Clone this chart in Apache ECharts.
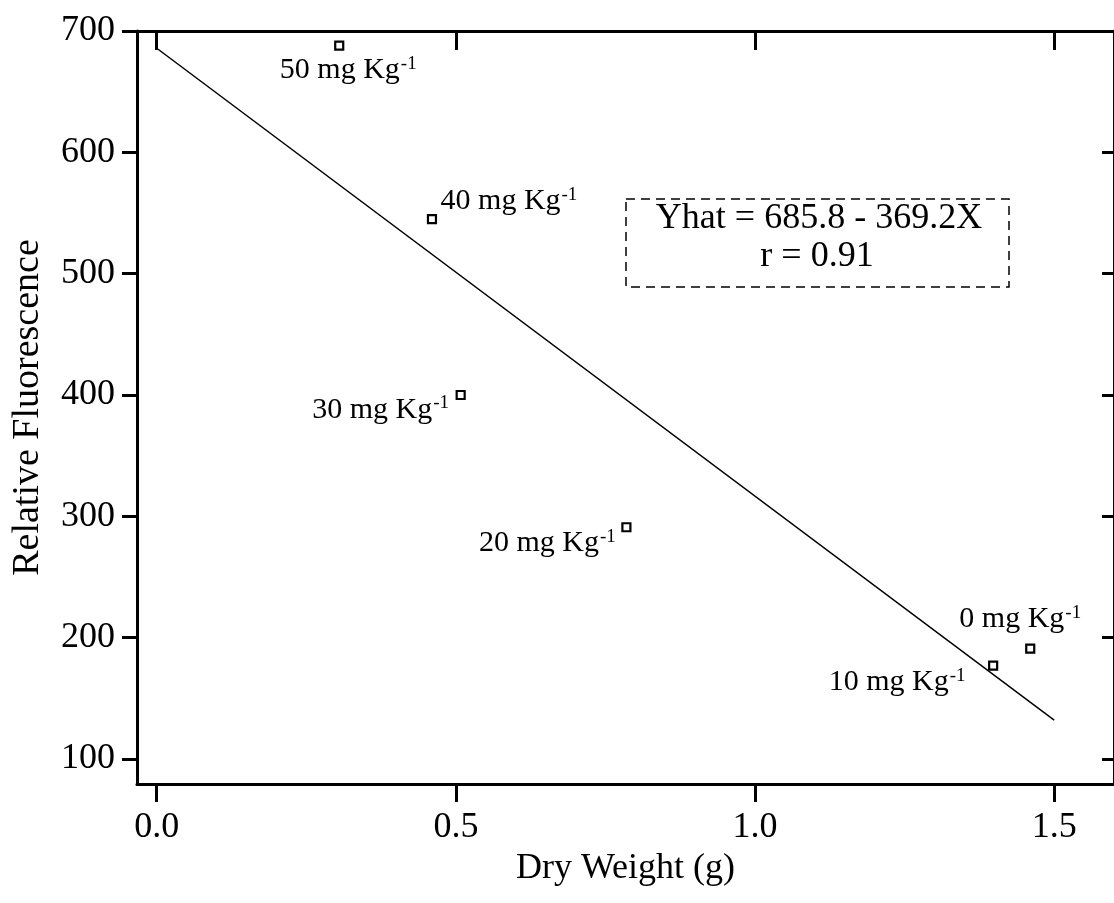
<!DOCTYPE html>
<html>
<head>
<meta charset="utf-8">
<script src="https://cdn.jsdelivr.net/npm/echarts@6/dist/echarts.min.js"></script>
<style>
  html, body { margin: 0; padding: 0; background: #fff; }
  #chart { width: 1114px; height: 903px; }
</style>
</head>
<body>
<div id="chart"></div>
<script>
// Dose labels (mg Kg-1) and measured points: dry weight (g) vs relative fluorescence
const doseLabels = ['50 mg Kg', '40 mg Kg', '30 mg Kg', '20 mg Kg', '10 mg Kg', '0 mg Kg'];
const dryWeight = [0.305, 0.46, 0.508, 0.785, 1.398, 1.46];
const fluorescence = [688, 545, 400, 291, 177, 191];

// Fitted line endpoints: Yhat = 685.8 - 369.2X over 0 – 1.5 g
const fitX = [0, 1.5];
const fitY = [685.8, 132.0];

// Tick values for the axes
const xTicks = [0, 0.5, 1.0, 1.5];
const yTicks = [100, 200, 300, 400, 500, 600, 700];

// Label placement around each point (pixels, relative to the marker centre)
const labelOffsets = [[9, 25], [77, -18], [-80, 15], [-79, 16], [-96, 17], [-10, -29]];

const SERIF = "'Liberation Serif', 'Times New Roman', serif";
const INK = '#000';

const chart = echarts.init(document.getElementById('chart'), null, { renderer: 'canvas' });

const points = dryWeight.map((x, i) => ({
  value: [x, fluorescence[i]],
  name: doseLabels[i],
  label: { offset: labelOffsets[i] }
}));

const axisLine = { show: true, onZero: false, lineStyle: { color: INK, width: 3 } };

chart.setOption({
  animation: false,
  backgroundColor: '#fff',
  grid: { left: 137, top: 31, right: -3, bottom: 119, containLabel: false },
  xAxis: [
    {
      type: 'value', position: 'bottom', min: -0.033, max: 1.6,
      axisLine,
      axisTick: { show: true, inside: false, length: 18, customValues: xTicks, lineStyle: { color: INK, width: 3 } },
      axisLabel: {
        show: true, customValues: xTicks, margin: 26,
        formatter: v => v.toFixed(1),
        fontFamily: SERIF, fontSize: 36, color: INK
      },
      splitLine: { show: false },
      name: 'Dry Weight (g)', nameLocation: 'middle', nameGap: 57,
      nameTextStyle: { fontFamily: SERIF, fontSize: 36, color: INK }
    },
    {
      type: 'value', position: 'top', min: -0.033, max: 1.6,
      axisLine,
      axisTick: { show: true, inside: true, length: 19, customValues: xTicks, lineStyle: { color: INK, width: 3 } },
      axisLabel: { show: false },
      splitLine: { show: false }
    }
  ],
  yAxis: [
    {
      type: 'value', position: 'left', min: 79.4, max: 700,
      axisLine,
      axisTick: { show: true, inside: false, length: 15, customValues: yTicks, lineStyle: { color: INK, width: 3 } },
      axisLabel: {
        show: true, customValues: yTicks, margin: 22,
        fontFamily: SERIF, fontSize: 36, color: INK
      },
      splitLine: { show: false },
      name: 'Relative Fluorescence', nameLocation: 'middle', nameGap: 90, nameRotate: 90,
      nameTextStyle: { fontFamily: SERIF, fontSize: 38, color: INK }
    },
    {
      type: 'value', position: 'right', min: 79.4, max: 700,
      axisLine,
      axisTick: { show: true, inside: true, length: 12, customValues: yTicks, lineStyle: { color: INK, width: 3 } },
      axisLabel: { show: false },
      splitLine: { show: false }
    }
  ],
  series: [
    {
      type: 'line',
      xAxisIndex: 0, yAxisIndex: 0,
      data: fitX.map((x, i) => [x, fitY[i]]),
      symbol: 'none',
      lineStyle: { color: INK, width: 1.5 },
      z: 2
    },
    {
      type: 'scatter',
      xAxisIndex: 0, yAxisIndex: 0,
      data: points,
      symbol: 'rect',
      symbolSize: 8,
      itemStyle: { color: '#fff', borderColor: INK, borderWidth: 2.2, opacity: 1 },
      label: {
        show: true,
        position: 'inside',
        align: 'center',
        verticalAlign: 'middle',
        color: INK,
        textBorderWidth: 0,
        textBorderColor: 'transparent',
        formatter: p => '{m|' + p.name + '}{s|-1}',
        rich: {
          m: { fontFamily: SERIF, fontSize: 30, color: INK, textBorderWidth: 0, lineHeight: 32, verticalAlign: 'middle' },
          s: { fontFamily: SERIF, fontSize: 19, color: INK, textBorderWidth: 0, lineHeight: 19, verticalAlign: 'top', padding: [0, 0, 0, 1] }
        }
      },
      z: 3
    }
  ],
  graphic: [
    {
      type: 'rect',
      shape: { x: 626, y: 199, width: 383, height: 88 },
      style: { fill: 'none', stroke: INK, lineWidth: 1.5, lineDash: [9, 6] },
      z: 10
    },
    {
      type: 'text',
      x: 819, y: 219,
      style: { text: 'Yhat = 685.8 - 369.2X', font: "36px 'Liberation Serif', 'Times New Roman', serif", fill: INK, align: 'center', verticalAlign: 'middle' },
      z: 10
    },
    {
      type: 'text',
      x: 817, y: 257,
      style: { text: 'r = 0.91', font: "36px 'Liberation Serif', 'Times New Roman', serif", fill: INK, align: 'center', verticalAlign: 'middle' },
      z: 10
    }
  ]
});
</script>
</body>
</html>
